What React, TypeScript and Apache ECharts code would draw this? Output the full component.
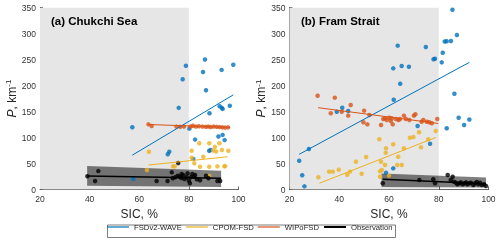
import React, { useEffect, useRef } from "react";
import * as echarts from "echarts";

const FONT = "'Liberation Sans', Arial, Helvetica, sans-serif";

const panelTitles = ["(a) Chukchi Sea", "(b) Fram Strait"];
const xTicks = { min: 20, max: 100, step: 20 };
const yTicks = { min: 0, max: 350, step: 50 };
const shadeX = [20, 80];
const shadeTop = 350;
const seriesNames = ["FSDv2-WAVE", "CPOM-FSD", "WIPoFSD", "Observation"];
const seriesColors = ["#0072bd", "#edb120", "#d95319", "#000000"];

// Chukchi Sea
const chukchiFsdPts = [[78.8,238],[77.5,212],[75.9,157],[86.5,250],[85.7,226],[93.2,230],[97.9,240],[86.9,191],[92.4,160],[93.3,157],[93.6,155],[96.5,161],[88.3,146.5],[57.2,119.6],[80.2,117],[82.5,96],[81.8,58.6],[91.9,102],[93.6,105],[94.4,95],[71.5,67.7],[72.1,72.7],[57.6,20.2],[88.2,74.6],[88.8,76]];
const chukchiCpomPts = [[63.9,72.7],[63.1,37.5],[73.6,44.5],[74.3,44.5],[81.1,74.6],[81.1,61],[82.2,50.3],[84.2,89],[84.5,43.8],[85.8,63],[88.2,89],[88.2,43.8],[90.5,82],[89.8,75],[91,73],[92.3,89],[93.3,76],[91.5,44.5],[94.3,44.5],[94.6,45],[95.9,74.6],[88.2,26]];
const chukchiWipoPts = [[63.7,125.3],[65,122],[75,121],[76.5,120.5],[78,121],[80.6,121],[81.6,122.5],[82.8,121],[84,121.5],[85.5,121],[86.8,120.5],[87.8,121],[88.8,120],[90,121],[91.2,120.5],[92.4,120],[93.5,119.5],[94.6,119],[95.8,119.5]];
const chukchiObsPts = [[39.1,25.4],[42.2,16.3],[43.5,35.4],[67,16.3],[71.4,16.3],[73.1,33],[73.5,21.5],[74.5,23.5],[75.5,26.5],[75.7,51],[76.2,24.6],[77.1,29.8],[77.8,27.3],[78.2,20.2],[79.1,23.5],[80,17],[80.4,12],[80.8,23.5],[81.4,29.8],[82.1,24.6],[82.5,27.9],[83.2,19.6],[84.5,17.7],[86.9,26.5],[87.9,21.5],[91.5,16.3],[92.6,16.3],[79.5,31],[77,22]];
const chukchiFsdFit = [[57.2,66],[97.9,182]];
const chukchiCpomFit = [[63.7,47],[95.6,63]];
const chukchiWipoFit = [[63.7,125],[96.6,119.5]];
const chukchiObsFit = [[39,26],[93,21.5]];
const chukchiBandX = [39, 93];
const chukchiBandLo = [7, 5];
const chukchiBandHi = [45, 36];

// Fram Strait
const framFsdPts = [[85.5,345.7],[87.3,297],[84.9,285.6],[82.4,284.5],[83.2,285],[81.6,263],[81.2,244.5],[77.9,250.5],[78.5,251.5],[74.8,274],[63.5,276.6],[61.7,233],[65.1,237.5],[68,236],[64.5,203.5],[61.9,172.7],[86.3,184],[88,138],[41.2,157.3],[39,149.6],[43.6,151],[92.3,134.5],[23.9,55.4],[25.1,27.3],[26,6.1],[27.8,77.9],[71.5,122],[76.5,88],[83.2,117.7],[90.2,124],[58.8,32.3],[61.7,40.7]];
const framCpomPts = [[31.6,23.5],[35.9,34.3],[37.4,34.3],[39.8,38.2],[43.2,28.5],[44.3,34.3],[46.7,53.5],[49,30.4],[50.8,62.5],[56.1,96.5],[56.8,53.5],[57.1,37.5],[56.4,34.9],[56.4,24.6],[58.4,47.1],[58.8,79.2],[58.7,70.8],[60,26.6],[61.7,86.9],[63.3,47],[65.1,47],[63.7,63.1],[66,79.2],[68.4,99.6],[69.8,101],[72.1,110],[72.9,81.1],[75.8,96.5],[78.8,112.5]];
const framWipoPts = [[31.3,180.4],[38.2,176.6],[44.6,162.5],[36.6,146.5],[41,149.6],[43.6,142],[50,151.6],[51.3,125.3],[49.7,129.2],[52.1,143.3],[56.8,124],[57.7,135.6],[58.4,136.9],[59.1,133.7],[60.1,138.1],[60.7,131.7],[61.1,136.9],[61.5,125.3],[62.8,135.6],[63.8,133.7],[64.4,135.6],[66,142],[66.8,135.6],[68.2,133.7],[70,142],[70.6,144.6],[73.1,130.4],[73.8,133.7],[75.2,130.4],[76.2,129.2],[77.2,127.3],[79.4,135.6]];
const framObsPts = [[57.5,11.9],[72.2,18.3],[77.8,19.6],[78.5,11.9],[83.6,27.9],[84.8,18.3],[85.6,24.6],[86.1,15],[86.9,13],[87.5,10],[88.3,11.9],[88.9,13.8],[89.6,10],[90.3,11.9],[91,13.8],[91.5,10],[92.3,11.9],[92.9,13],[93.9,8.7],[94.6,11.9],[95.3,14.4],[95.9,10],[96.6,13],[97.3,8.7],[98.2,10],[99,6.7]];
const framFsdFit = [[23.9,67.7],[92.3,244.5]];
const framCpomFit = [[32,12],[78.8,100]];
const framWipoFit = [[31.5,157.3],[79.8,127]];
const framObsFit = [[57.5,19.6],[99,11]];
const framBandX = [57, 99];
const framBandLo = [5, 4];
const framBandHi = [31, 23];

const panels = [
  { pts: [chukchiFsdPts, chukchiCpomPts, chukchiWipoPts, chukchiObsPts], fits: [chukchiFsdFit, chukchiCpomFit, chukchiWipoFit, chukchiObsFit], bx: chukchiBandX, lo: chukchiBandLo, hi: chukchiBandHi },
  { pts: [framFsdPts, framCpomPts, framWipoPts, framObsPts], fits: [framFsdFit, framCpomFit, framWipoFit, framObsFit], bx: framBandX, lo: framBandLo, hi: framBandHi },
];

const grids = [
  { left: 40, top: 7.5, width: 198.5, height: 182 },
  { left: 289.5, top: 7.5, width: 199, height: 182 },
];

export default function App() {
  const ref = useRef<HTMLDivElement>(null);
  useEffect(() => {
    const chart = echarts.init(ref.current!, null, { renderer: "svg" });
    const axisLine = { show: true, lineStyle: { color: "#262626", width: 0.7 } };
    const axisTick = { show: true, inside: true, length: 3, lineStyle: { color: "#262626", width: 0.7 } };
    const labelStyle = { fontSize: 8.5, color: "#333", fontFamily: FONT };
    const series: any[] = [];
    panels.forEach((p, k) => {
      const ax = { xAxisIndex: k, yAxisIndex: k };
      series.push({
        type: "line", ...ax, silent: true, z: 1, symbol: "none",
        data: shadeX.map((x) => [x, shadeTop]),
        lineStyle: { width: 0 }, areaStyle: { color: "#e6e6e6", opacity: 1 },
      });
      const bandData = p.bx.map((x, i) => [x, p.lo[i], p.hi[i]]);
      series.push({
        type: "custom", ...ax, silent: true, z: 2,
        data: bandData,
        encode: { x: 0, y: [1, 2] },
        renderItem: (params: any, api: any) => {
          if (params.dataIndex !== 0) return null;
          const top = bandData.map((d) => api.coord([d[0], d[2]]));
          const bot = bandData.map((d) => api.coord([d[0], d[1]])).reverse();
          return {
            type: "polygon",
            shape: { points: top.concat(bot) },
            style: { fill: "rgba(0,0,0,0.5)" },
          };
        },
      });
      p.pts.forEach((d, j) => {
        series.push({
          type: "scatter", ...ax, z: 3, name: seriesNames[j] + " pts",
          data: d, symbolSize: 4.5, itemStyle: { color: seriesColors[j] },
        });
      });
      p.fits.forEach((d, j) => {
        series.push({
          type: "line", ...ax, z: 4, name: seriesNames[j], symbol: "none", data: d,
          lineStyle: { color: seriesColors[j], width: j === 3 ? 1.5 : 1 },
          itemStyle: { color: seriesColors[j] },
        });
      });
    });
    const legendText = { fontSize: 7.7, color: "#262626", fontFamily: FONT };
    chart.setOption({
      animation: false,
      grid: grids,
      title: panelTitles.map((t, k) => ({
        text: t, left: k === 0 ? 51 : 301, top: 15, padding: 0,
        textStyle: { fontSize: 11.5, fontWeight: "bold", color: "#000", fontFamily: FONT },
      })),
      xAxis: grids.map((_, k) => ({
        type: "value", gridIndex: k, min: xTicks.min, max: xTicks.max, interval: xTicks.step,
        axisLine, axisTick, splitLine: { show: false },
        axisLabel: { ...labelStyle, margin: 5 },
        name: "SIC, %", nameLocation: "middle", nameGap: 17,
        nameTextStyle: { fontSize: 12, color: "#262626", fontFamily: FONT },
      })),
      yAxis: grids.map((_, k) => ({
        type: "value", gridIndex: k, min: yTicks.min, max: yTicks.max, interval: yTicks.step,
        axisLine, axisTick, splitLine: { show: false },
        axisLabel: { ...labelStyle, margin: 4 },
        name: "{i|P}{n|, km}{s|-1}", nameLocation: "middle", nameGap: 20, nameRotate: 90,
        nameTextStyle: {
          color: "#262626", fontFamily: FONT, fontSize: 12,
          rich: {
            i: { fontStyle: "italic", fontSize: 12, color: "#262626", fontFamily: FONT, lineHeight: 14 },
            n: { fontSize: 12, color: "#262626", fontFamily: FONT, lineHeight: 14 },
            s: { fontSize: 8, color: "#262626", fontFamily: FONT, verticalAlign: "top", lineHeight: 14 },
          },
        },
      })),
      legend: [
        {
          data: seriesNames.slice(0, 3), left: 107, top: 223, itemWidth: 22, itemHeight: 1.2, itemGap: 4,
          icon: "rect", padding: 0, textStyle: legendText,
        },
        {
          data: seriesNames.slice(3), left: 324, top: 223, itemWidth: 22, itemHeight: 2, itemGap: 4,
          icon: "rect", padding: 0, textStyle: legendText,
        },
      ],
      graphic: [
        {
          type: "rect", left: 105, top: 222.5, silent: true,
          shape: { width: 288, height: 12.5 },
          style: { fill: "none", stroke: "#262626", lineWidth: 0.6 },
        },
      ],
      series,
    });
    return () => chart.dispose();
  }, []);
  return <div ref={ref} style={{ position: "fixed", left: 0, top: 0, width: 500, height: 240 }} />;
}
